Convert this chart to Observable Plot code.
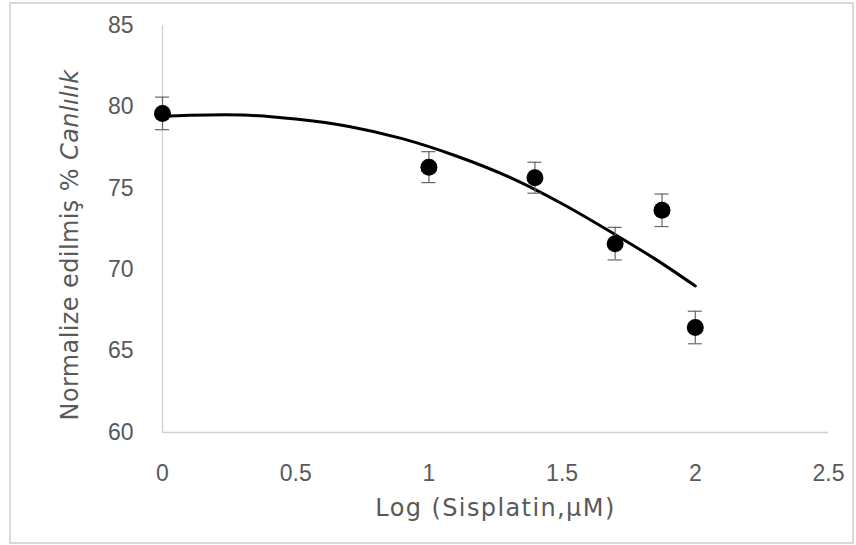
<!DOCTYPE html>
<html>
<head>
<meta charset="utf-8">
<script src="https://cdn.jsdelivr.net/npm/d3@7"></script>
<script src="https://cdn.jsdelivr.net/npm/@observablehq/plot@0.6"></script>
<style>
  html, body { margin: 0; padding: 0; background: #fff; }
  #chart svg { display: block; }
</style>
</head>
<body>
<div id="chart"></div>
<script>
// Measured points (x = log concentration, y = normalized viability %)
const logConc   = [0, 1, 1.398, 1.699, 1.875, 2];
const viability = [79.6, 76.3, 75.65, 71.6, 73.65, 66.45];
const errors    = [1.0, 0.95, 0.95, 1.0, 1.0, 1.0];

// Trend curve
const trendX = [0, 0.1, 0.3, 0.5, 0.7, 0.9, 1.1, 1.3, 1.5, 1.7, 1.85, 2.0];
const trendY = [79.4, 79.48, 79.5, 79.25, 78.8, 78.05, 77.0, 75.7, 74.05, 72.15, 70.65, 69.0];

// Axis ticks and labels
const xTicks = [0, 0.5, 1, 1.5, 2, 2.5];
const yTicks = [60, 65, 70, 75, 80, 85];
const xTitle = "Log (Sisplatin,\u03bcM)";
const yTitleMain = "Normalize edilmiş % ";
const yTitleItalic = "Canlılık";

const points = logConc.map((x, i) => ({x, y: viability[i], e: errors[i]}));
const trend = trendX.map((x, i) => ({x, y: trendY[i]}));

const tickColor = "#595959";
const titleFont = "'DejaVu Sans', 'Open Sans', sans-serif";

const chart = Plot.plot({
  width: 856,
  height: 545,
  marginLeft: 162,
  marginRight: 28,
  marginTop: 25,
  marginBottom: 113,
  style: {fontFamily: "'Liberation Sans', Arial, sans-serif", fontSize: "23px", color: tickColor, background: "#fff"},
  x: {domain: [0, 2.5]},
  y: {domain: [60, 85]},
  marks: [
    Plot.ruleY([60], {stroke: "#d0d0d0", strokeWidth: 1.3}),
    Plot.ruleX([0], {stroke: "#d0d0d0", strokeWidth: 1.3}),
    Plot.axisX({ticks: xTicks, tickSize: 0, tickPadding: 32, tickFormat: d => String(d), fontSize: 23, fill: tickColor, label: null}),
    Plot.axisY({ticks: yTicks, tickSize: 0, tickPadding: 29, tickFormat: d => String(d), fontSize: 23, fill: tickColor, label: null}),
    Plot.text([xTitle], {frameAnchor: "bottom", dy: 76, fontSize: 24, fill: tickColor, fontFamily: titleFont, lineAnchor: "middle", textAnchor: "middle", className: "xtitle"}),
    Plot.text([yTitleMain + yTitleItalic], {frameAnchor: "left", rotate: -90, dx: -92, dy: 16, fontSize: 24, fill: tickColor, fontFamily: titleFont, lineAnchor: "middle", textAnchor: "middle", className: "ytitle"}),
    Plot.line(trend, {x: "x", y: "y", curve: "catmull-rom", stroke: "#000", strokeWidth: 3}),
    Plot.ruleX(points, {x: "x", y1: d => d.y - d.e, y2: d => d.y + d.e, stroke: "#666", strokeWidth: 1.2}),
    Plot.ruleY(points, {y: d => d.y + d.e, x1: "x", x2: "x", insetLeft: -7, insetRight: -7, stroke: "#666", strokeWidth: 1.2}),
    Plot.ruleY(points, {y: d => d.y - d.e, x1: "x", x2: "x", insetLeft: -7, insetRight: -7, stroke: "#666", strokeWidth: 1.2}),
    Plot.dot(points, {x: "x", y: "y", r: 8.5, fill: "#000", stroke: "none"})
  ]
});

// letter spacing of the titles (reference uses a wide handwriting-like face)
d3.select(chart).selectAll(".xtitle text").attr("letter-spacing", "1.4px");
d3.select(chart).selectAll(".ytitle text").attr("letter-spacing", "0.4px");

// italic part of the y title
d3.select(chart).selectAll(".ytitle text").each(function() {
  const t = d3.select(this);
  t.text(null);
  t.append("tspan").text(yTitleMain);
  t.append("tspan").attr("font-style", "italic").text(yTitleItalic);
});

// outer chart border
d3.select(chart).append("rect")
  .attr("x", 10).attr("y", 3).attr("width", 843).attr("height", 540)
  .attr("fill", "none").attr("stroke", "#d9d9d9").attr("stroke-width", 2);

document.getElementById("chart").appendChild(chart);
</script>
</body>
</html>
